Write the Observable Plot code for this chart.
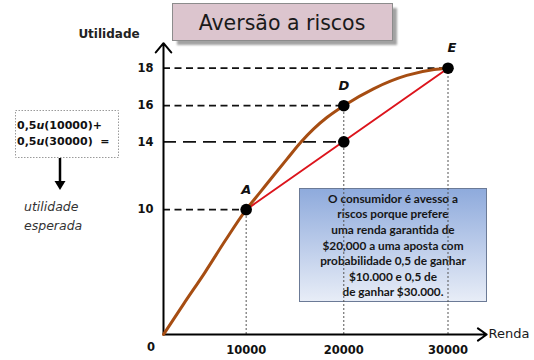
<!DOCTYPE html>
<html>
<head>
<meta charset="utf-8">
<script src="https://cdn.jsdelivr.net/npm/d3@7"></script>
<script src="https://cdn.jsdelivr.net/npm/@observablehq/plot@0.6"></script>
<style>
  body { margin: 0; background: #fff; }
</style>
</head>
<body>
<div id="chart"></div>
<script>
// Tick labels and axis extents
const rendaTicks = [10000, 20000, 30000];
const utilTicks = [10, 14, 16, 18];
const rendaAxisEnd = 33600;
const utilAxisEnd = 19.3;

// Utility curve u(renda)
const curveRenda = [0, 2900, 5400, 7700, 10000, 11500, 12900, 14300, 15700, 17000, 18350, 20000, 22900, 26100, 28700, 30000];
const curveUtil = [0, 3.4, 5.8, 8.0, 10, 11.07, 12.06, 13.03, 13.98, 14.73, 15.37, 16, 16.91, 17.62, 17.93, 18];

// Marked points: A, D, the expected utility of the bet, and E
const pointNames = ["A", "D", "", "E"];
const pointRenda = [10000, 20000, 20000, 30000];
const pointUtil = [10, 16, 14, 18];

// Chord from A to E
const chordRenda = [10000, 30000];
const chordUtil = [10, 18];

// Texts
const titleText = "Aversão a riscos";
const yLabel = "Utilidade";
const xLabel = "Renda";
const noteLines = [
  "O consumidor é avesso a",
  "riscos porque prefere",
  "uma renda garantida de",
  "$20,000 a uma aposta com",
  "probabilidade 0,5 de ganhar",
  "$10.000 e 0,5 de",
  "de ganhar $30.000."
];
const formulaLines = [["0,5", "u", "(10000)+"], ["0,5", "u", "(30000)  ="]];
const formulaResult = ["utilidade", "esperada"];

const curve = curveRenda.map((r, i) => ({renda: r, util: curveUtil[i]}));
const points = pointRenda.map((r, i) => ({name: pointNames[i], renda: r, util: pointUtil[i]}));
const chord = chordRenda.map((r, i) => ({renda: r, util: chordUtil[i]}));
const labelled = points.filter(d => d.name);
const hGuides = points.filter(d => d.util !== 14);
const eGuide = points.filter(d => d.util === 14);

const SANS = "DejaVu Sans, sans-serif";

// Decorations: title box, note box and the expected-utility formula
function decorations() {
  const g = d3.create("svg:g").attr("text-anchor", "start");
  const defs = g.append("defs");
  const grad = defs.append("linearGradient").attr("id", "noteFill")
    .attr("x1", 0).attr("y1", 0).attr("x2", 0).attr("y2", 1);
  grad.append("stop").attr("offset", "0%").attr("stop-color", "#8eaadc");
  grad.append("stop").attr("offset", "100%").attr("stop-color", "#e8edf7");
  const blur = defs.append("filter").attr("id", "soft");
  blur.append("feGaussianBlur").attr("stdDeviation", 1);

  // title
  g.append("rect").attr("x", 177).attr("y", 8).attr("width", 220).attr("height", 37)
    .attr("fill", "#a2a2a2").attr("filter", "url(#soft)");
  g.append("rect").attr("x", 172.5).attr("y", 3.5).attr("width", 220).attr("height", 37)
    .attr("fill", "#dcc5ce").attr("stroke", "#8c8c8c");
  g.append("text").attr("x", 282).attr("y", 30).attr("text-anchor", "middle")
    .attr("font-family", SANS).attr("font-weight", "normal").attr("font-size", 20.5)
    .attr("fill", "#1a1a1a").text(titleText);

  // axis titles
  g.append("text").attr("x", 109).attr("y", 38).attr("text-anchor", "middle")
    .attr("font-family", SANS).attr("font-weight", "bold").attr("font-size", 12)
    .attr("fill", "#222").text(yLabel);
  g.append("text").attr("x", 488.5).attr("y", 338)
    .attr("font-family", SANS).attr("font-weight", "normal").attr("font-size", 13)
    .attr("fill", "#1a1a1a").text(xLabel);

  // note box
  g.append("rect").attr("x", 299.5).attr("y", 188.5).attr("width", 187).attr("height", 113)
    .attr("fill", "url(#noteFill)").attr("stroke", "#6b7a96");
  noteLines.forEach((line, i) => {
    g.append("text").attr("x", 393).attr("y", 198.7 + i * 15.6).attr("dy", "0.35em")
      .attr("text-anchor", "middle").attr("font-family", "Lato, sans-serif")
      .attr("font-weight", "bold").attr("font-size", 11.8).attr("fill", "#161616").text(line);
  });

  // formula box
  g.append("rect").attr("x", 15.5).attr("y", 110.5).attr("width", 103).attr("height", 47)
    .attr("fill", "#fff").attr("stroke", "#9a9a9a").attr("stroke-dasharray", "1.5,1.5");
  formulaLines.forEach((parts, i) => {
    const t = g.append("text").attr("x", 17).attr("y", 128.5 + i * 16.8)
      .attr("font-family", SANS).attr("font-weight", "bold").attr("font-size", 11)
      .attr("fill", "#111").attr("xml:space", "preserve");
    t.append("tspan").text(parts[0]);
    t.append("tspan").attr("font-style", "italic").text(parts[1]);
    t.append("tspan").text(parts[2]);
  });
  g.append("line").attr("x1", 60).attr("y1", 158).attr("x2", 60).attr("y2", 182)
    .attr("stroke", "#000").attr("stroke-width", 2.5);
  g.append("path").attr("d", "M54.5,181 L65.5,181 L60,190 Z").attr("fill", "#000");
  formulaResult.forEach((line, i) => {
    g.append("text").attr("x", 24).attr("y", 211 + i * 18.5)
      .attr("font-family", SANS).attr("font-weight", "normal").attr("font-style", "italic")
      .attr("font-size", 12.5).attr("fill", "#333").text(line);
  });
  return g.node();
}

const chart = Plot.plot({
  width: 534,
  height: 360,
  marginLeft: 163,
  marginBottom: 26,
  marginTop: 0,
  marginRight: 0,
  style: {fontFamily: SANS, fontWeight: "bold", fontSize: "11.5px", color: "#111", background: "#fff"},
  // the hand-drawn axes stretch toward the top and right: power scales follow them
  x: {
    type: "pow",
    exponent: 1.125,
    domain: [0, 30000],
    range: [163, 447.5],
    ticks: rendaTicks,
    tickSize: 0,
    tickPadding: 11,
    tickFormat: d => String(d),
    label: null
  },
  y: {
    type: "pow",
    exponent: 1.288,
    domain: [0, 18],
    range: [334, 67.7],
    ticks: utilTicks,
    tickSize: 0,
    tickPadding: 10,
    tickFormat: d => String(d),
    label: null
  },
  marks: [
    decorations,
    // dashed guides to the y axis
    Plot.ruleY(hGuides, {y: "util", x1: 0, x2: "renda", stroke: "#111", strokeWidth: 1.8, strokeDasharray: "7,4.5"}),
    Plot.ruleY(eGuide, {y: "util", x1: 0, x2: "renda", stroke: "#111", strokeWidth: 1.8, strokeDasharray: "13,7"}),
    // dotted drops to the x axis
    Plot.ruleX(labelled, {x: "renda", y1: 0, y2: "util", stroke: "#555", strokeWidth: 1, strokeDasharray: "2,2"}),
    // axes
    Plot.arrow([0], {x1: 0, y1: 0, x2: 0, y2: utilAxisEnd, stroke: "#000", strokeWidth: 2, headLength: 9, headAngle: 80, bend: 0}),
    Plot.arrow([0], {x1: 0, y1: 0, x2: rendaAxisEnd, y2: 0, stroke: "#000", strokeWidth: 2, headLength: 8, headAngle: 70, bend: 0}),
    Plot.text([0], {x: 0, y: 0, text: d => String(d), dx: -12.5, dy: 13, fontSize: 11.5, fontWeight: "bold", fill: "#111"}),
    // chord and utility curve
    Plot.line(chord, {x: "renda", y: "util", stroke: "#dc141c", strokeWidth: 2}),
    Plot.line(curve, {x: "renda", y: "util", stroke: "#a64d12", strokeWidth: 3, curve: "monotone-x"}),
    Plot.dot(points, {x: "renda", y: "util", r: 5.8, fill: "#000"}),
    Plot.text(labelled.filter(d => d.name !== "E"), {x: "renda", y: "util", text: "name", dy: -20, fontSize: 13, fontWeight: "bold", fontStyle: "italic", fill: "#111"}),
    Plot.text(labelled.filter(d => d.name === "E"), {x: "renda", y: "util", text: "name", dx: 4, dy: -20, fontSize: 13, fontWeight: "bold", fontStyle: "italic", fill: "#111"})
  ]
});

document.getElementById("chart").appendChild(chart);
</script>
</body>
</html>
